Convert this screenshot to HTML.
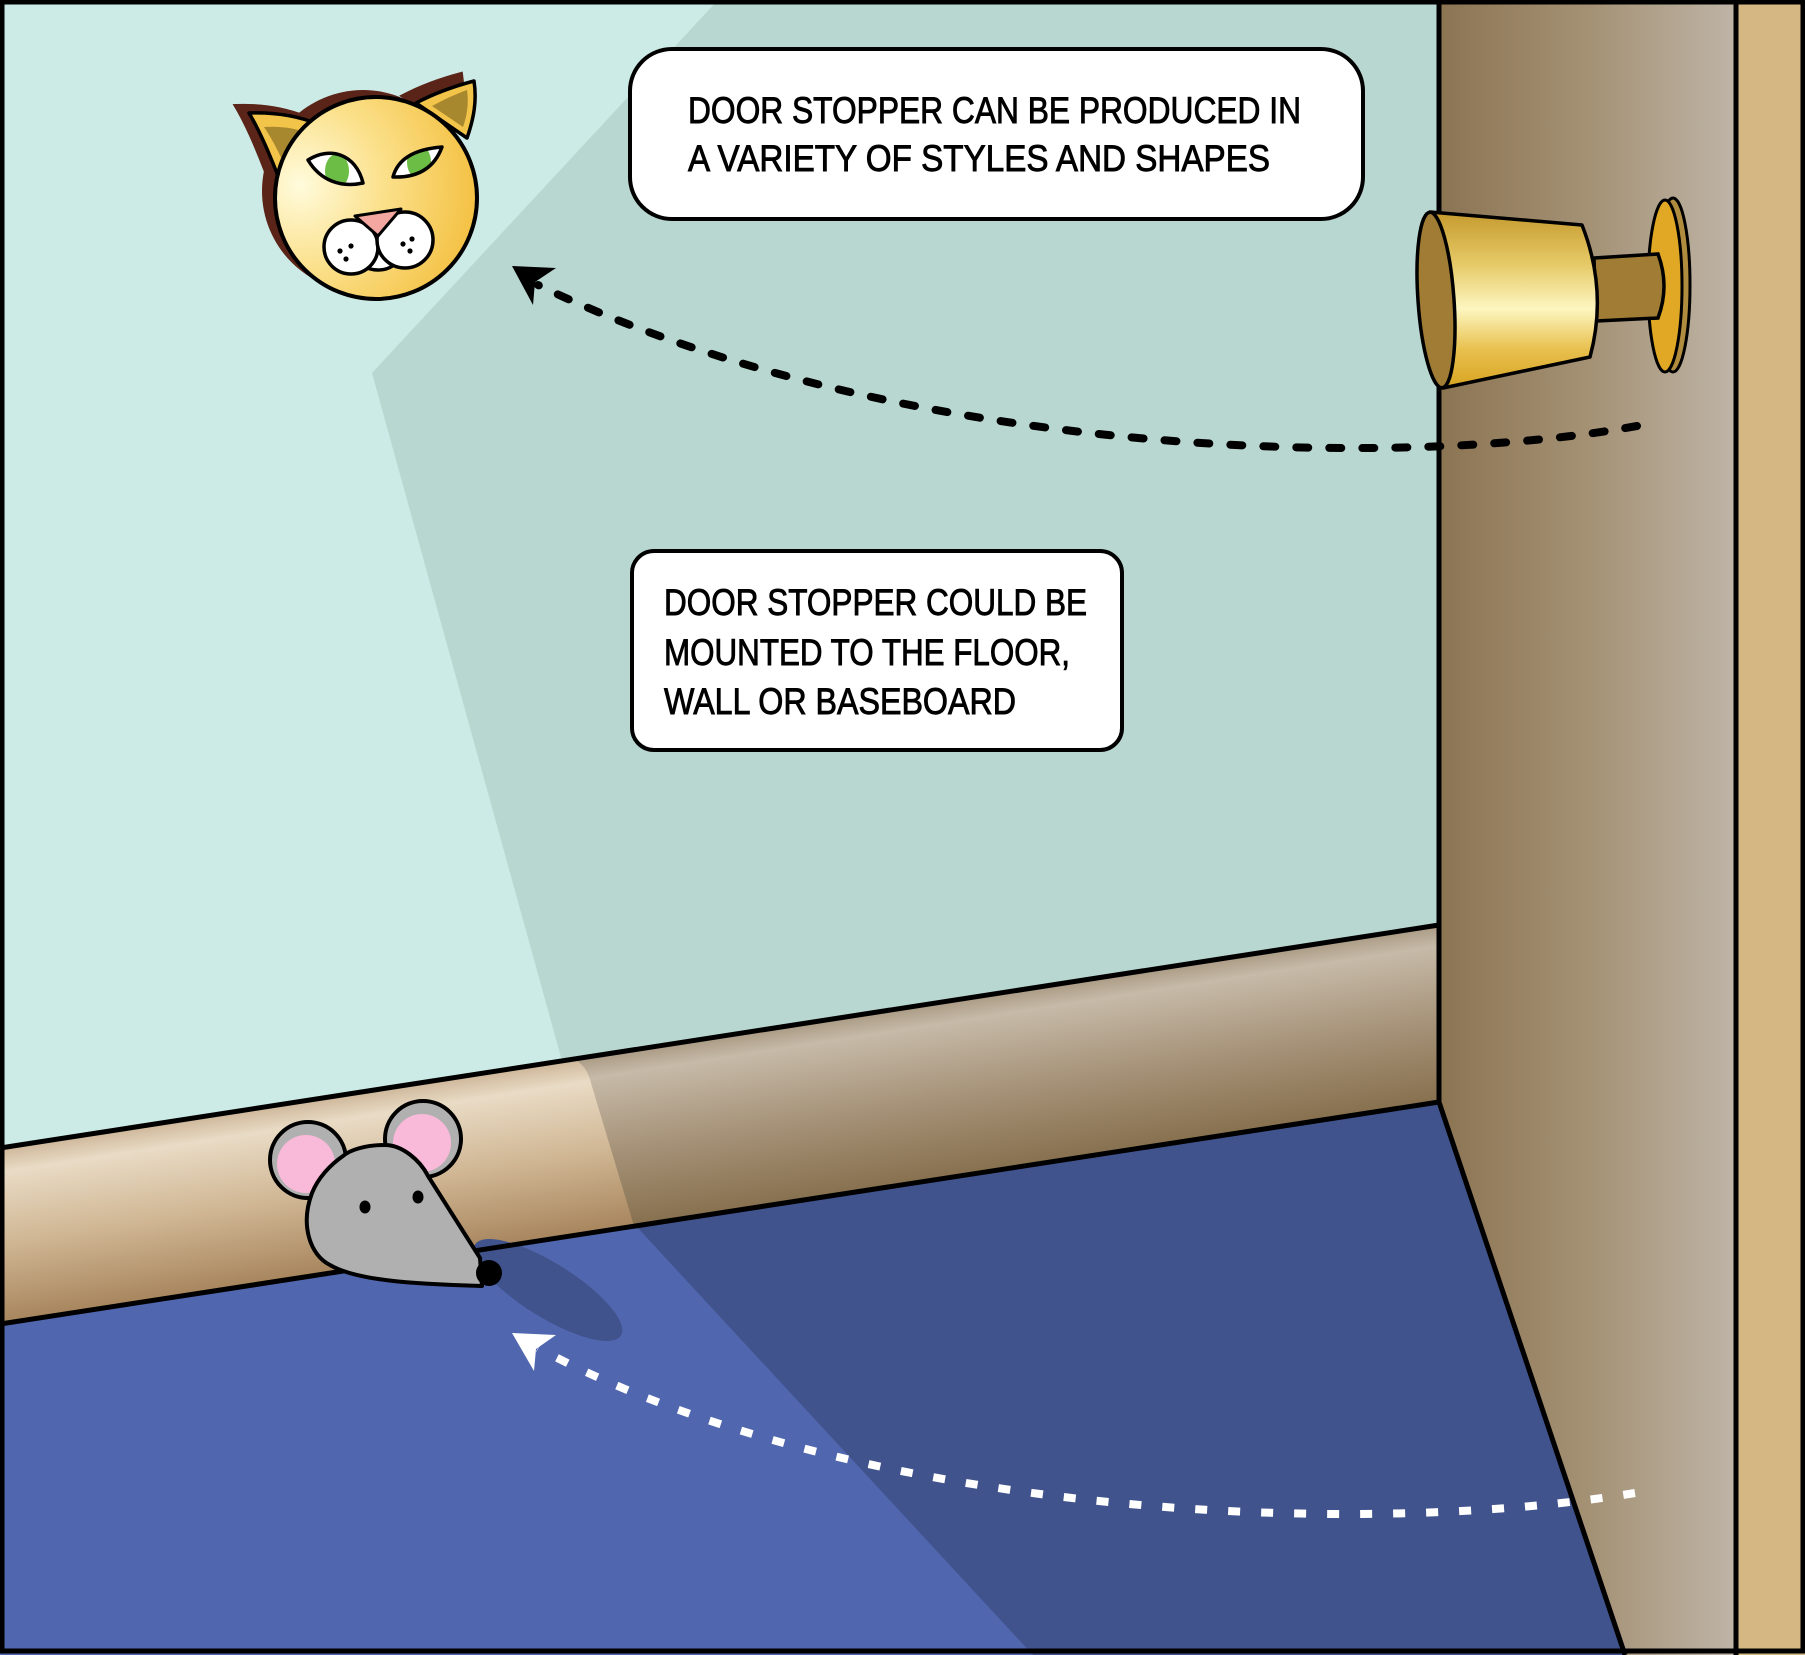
<!DOCTYPE html>
<html><head><meta charset="utf-8"><style>
html,body{margin:0;padding:0;background:#fff}
svg{display:block}
text{font-family:"Liberation Sans",sans-serif;fill:#000}
</style></head><body>
<svg width="1805" height="1655" viewBox="0 0 1805 1655" xmlns="http://www.w3.org/2000/svg">
<defs>
<linearGradient id="door" x1="1439" y1="0" x2="1735" y2="0" gradientUnits="userSpaceOnUse">
<stop offset="0" stop-color="#8b7452"/><stop offset="0.5" stop-color="#a49174"/><stop offset="1" stop-color="#beb4a6"/>
</linearGradient>
<linearGradient id="bbShadow" x1="700" y1="1040" x2="727" y2="1213" gradientUnits="userSpaceOnUse">
<stop offset="0" stop-color="#aa9a84"/><stop offset="0.12" stop-color="#c6baa8"/><stop offset="0.55" stop-color="#a69278"/><stop offset="1" stop-color="#86704e"/>
</linearGradient>
<linearGradient id="bbLit" x1="300" y1="1101" x2="327" y2="1276" gradientUnits="userSpaceOnUse">
<stop offset="0" stop-color="#ccb598"/><stop offset="0.14" stop-color="#e9dbc5"/><stop offset="0.55" stop-color="#cfb592"/><stop offset="1" stop-color="#a6845c"/>
</linearGradient>
<radialGradient id="catHead" cx="300" cy="185" r="190" gradientUnits="userSpaceOnUse">
<stop offset="0" stop-color="#fffbdc"/><stop offset="0.45" stop-color="#fbe08a"/><stop offset="1" stop-color="#f3bd3a"/>
</radialGradient>
<linearGradient id="knob" x1="0" y1="212" x2="0" y2="388" gradientUnits="userSpaceOnUse">
<stop offset="0" stop-color="#c59a2e"/><stop offset="0.3" stop-color="#e6ca68"/><stop offset="0.55" stop-color="#fdf6c0"/><stop offset="0.78" stop-color="#e8c04e"/><stop offset="1" stop-color="#d8a422"/>
</linearGradient>
<clipPath id="eyeL"><path d="M308,160 C330,146 356,154 363,183 C340,188 320,180 308,160 Z"/></clipPath>
<clipPath id="eyeR"><path d="M393,177 C398,158 416,149 442,147 C435,166 420,178 393,177 Z"/></clipPath>
</defs>

<!-- wall -->
<rect x="0" y="0" width="1805" height="1655" fill="#cdebe6"/>
<polygon points="718,0 1439,0 1439,925 562,1061 372,373" fill="#b9d7d1"/>

<!-- door frame -->
<rect x="1439" y="0" width="296" height="1655" fill="url(#door)"/>
<rect x="1735" y="0" width="70" height="1655" fill="#d4b782"/>

<!-- baseboard -->
<polygon points="0,1148 1439,925 1439,1102 0,1324" fill="url(#bbShadow)"/>
<path d="M0,1148 L572,1059 Q586,1063 591,1083 L634,1226 L0,1324 Z" fill="url(#bbLit)"/>

<!-- floor -->
<polygon points="0,1324 1439,1102 1623,1655 0,1655" fill="#40538c"/>
<polygon points="0,1324 636,1226 1033,1655 0,1655" fill="#5066ae"/>
<ellipse cx="548" cy="1290" rx="86" ry="27" transform="rotate(32 548 1290)" fill="#40538c"/>

<!-- structural lines -->
<line x1="0" y1="1148" x2="1439" y2="925" stroke="#000" stroke-width="5"/>
<line x1="0" y1="1324" x2="1439" y2="1102" stroke="#000" stroke-width="5"/>
<line x1="1439" y1="1102" x2="1625" y2="1655" stroke="#000" stroke-width="5"/>
<line x1="1439" y1="0" x2="1439" y2="1104" stroke="#000" stroke-width="5"/>
<line x1="1736" y1="0" x2="1736" y2="1655" stroke="#000" stroke-width="5"/>

<!-- door knob -->
<ellipse cx="1673" cy="285" rx="17" ry="87" fill="#b08c3e" stroke="#000" stroke-width="3"/>
<ellipse cx="1665" cy="286" rx="17" ry="86" fill="#e0a824" stroke="#000" stroke-width="3"/>
<path d="M1594,258 L1658,254 Q1670,286 1658,318 L1596,321 Z" fill="#a07c34" stroke="#000" stroke-width="3.5"/>
<path d="M1430,212 L1582,225 Q1608,291 1590,357 L1443,388 Z" fill="url(#knob)" stroke="#000" stroke-width="3.5" stroke-linejoin="round"/>
<ellipse cx="1436" cy="300" rx="18" ry="88" transform="rotate(-4 1436 300)" fill="#a07c34" stroke="#000" stroke-width="3.5"/>

<!-- cat -->
<g transform="translate(-13,-7)" fill="#5a2418">
<path d="M278,176 C268,150 258,128 249,113 C275,112 298,116 318,124 Z" stroke="#5a2418" stroke-width="4"/>
<path d="M416,103 C435,93 455,86 474,81 C477,100 474,118 467,138 Z" stroke="#5a2418" stroke-width="4"/>
<circle cx="376" cy="198" r="101"/>
</g>
<path d="M278,176 C268,150 258,128 249,113 C275,112 298,116 318,124 Z" fill="#f3c44a" stroke="#000" stroke-width="3.5" stroke-linejoin="round"/>
<path d="M283,162 C277,148 270,136 264,127 C280,126 293,128 305,132 Z" fill="#a8882e"/>
<path d="M416,103 C435,93 455,86 474,81 C477,100 474,118 467,138 Z" fill="#f3c44a" stroke="#000" stroke-width="3.5" stroke-linejoin="round"/>
<path d="M432,106 C445,99 456,94 467,90 C469,103 467,116 463,127 Z" fill="#a8882e"/>
<circle cx="376" cy="198" r="101" fill="url(#catHead)" stroke="#000" stroke-width="4"/>
<path d="M308,160 C330,146 356,154 363,183 C340,188 320,180 308,160 Z" fill="#fff"/>
<ellipse cx="337" cy="171" rx="12" ry="17" fill="#6cbd45" clip-path="url(#eyeL)"/>
<path d="M308,160 C330,146 356,154 363,183 C340,188 320,180 308,160 Z" fill="none" stroke="#000" stroke-width="3.5" stroke-linejoin="round"/>
<path d="M393,177 C398,158 416,149 442,147 C435,166 420,178 393,177 Z" fill="#fff"/>
<ellipse cx="419" cy="162" rx="12" ry="17" fill="#6cbd45" clip-path="url(#eyeR)"/>
<path d="M393,177 C398,158 416,149 442,147 C435,166 420,178 393,177 Z" fill="none" stroke="#000" stroke-width="3.5" stroke-linejoin="round"/>
<ellipse cx="378" cy="257" rx="20" ry="13" fill="#fff" stroke="#000" stroke-width="3.5"/>
<circle cx="351" cy="247" r="27" fill="#fff" stroke="#000" stroke-width="3.5"/>
<circle cx="405" cy="240" r="28" fill="#fff" stroke="#000" stroke-width="3.5"/>
<polygon points="355,216 401,209 378,236" fill="#f4a6a0" stroke="#000" stroke-width="3" stroke-linejoin="round"/>
<g fill="#000">
<circle cx="340" cy="251" r="2.6"/><circle cx="351" cy="246" r="2.6"/><circle cx="346" cy="259" r="2.6"/>
<circle cx="403" cy="244" r="2.6"/><circle cx="412" cy="239" r="2.6"/><circle cx="410" cy="251" r="2.6"/>
</g>

<!-- mouse -->
<circle cx="308" cy="1160" r="38" fill="#b0b0b0" stroke="#000" stroke-width="4"/>
<circle cx="306" cy="1164" r="29" fill="#f9b9d8"/>
<circle cx="423" cy="1139" r="38" fill="#b0b0b0" stroke="#000" stroke-width="4"/>
<circle cx="422" cy="1143" r="29" fill="#f9b9d8"/>
<path d="M312,1193 C300,1225 310,1255 330,1265 C355,1280 410,1284 482,1286 L480,1258 L428,1176 C420,1160 402,1145 385,1145 C365,1145 350,1150 343,1156 C330,1165 318,1178 312,1193 Z" fill="#b0b0b0" stroke="#000" stroke-width="4" stroke-linejoin="round"/>
<ellipse cx="365" cy="1207" rx="5.5" ry="6.5" fill="#000"/>
<ellipse cx="418" cy="1197" rx="5.5" ry="6.5" fill="#000"/>
<circle cx="489" cy="1273" r="13" fill="#000"/>

<!-- text boxes -->
<rect x="630" y="49" width="733" height="170" rx="42" ry="42" fill="#fff" stroke="#000" stroke-width="4"/>
<g stroke="#000" stroke-width="0.9">
<text x="688" y="123" font-size="37" textLength="613" lengthAdjust="spacingAndGlyphs">DOOR STOPPER CAN BE PRODUCED IN</text>
<text x="688" y="171" font-size="37" textLength="582" lengthAdjust="spacingAndGlyphs">A VARIETY OF STYLES AND SHAPES</text>
</g>

<rect x="632" y="551" width="490" height="199" rx="22" ry="22" fill="#fff" stroke="#000" stroke-width="4"/>
<g stroke="#000" stroke-width="0.9">
<text x="664" y="615" font-size="37" textLength="423" lengthAdjust="spacingAndGlyphs">DOOR STOPPER COULD BE</text>
<text x="664" y="665" font-size="37" textLength="406" lengthAdjust="spacingAndGlyphs">MOUNTED TO THE FLOOR,</text>
<text x="664" y="714" font-size="37" textLength="352" lengthAdjust="spacingAndGlyphs">WALL OR BASEBOARD</text>
</g>

<!-- arrows -->
<path d="M1637,426 C1400,470 900,460 538,285" fill="none" stroke="#000" stroke-width="8" stroke-linecap="round" stroke-dasharray="12 21"/>
<polygon points="512,266 556,268 535,282 533,305" fill="#000"/>
<path d="M1635,1493 C1350,1540 850,1515 538,1348" fill="none" stroke="#fff" stroke-width="8" stroke-dasharray="12 21"/>
<polygon points="512,1333 556,1335 536,1349 534,1371" fill="#fff"/>

<!-- outer border -->
<rect x="2" y="2" width="1801" height="1649" fill="none" stroke="#000" stroke-width="5"/>
</svg>
</body></html>
